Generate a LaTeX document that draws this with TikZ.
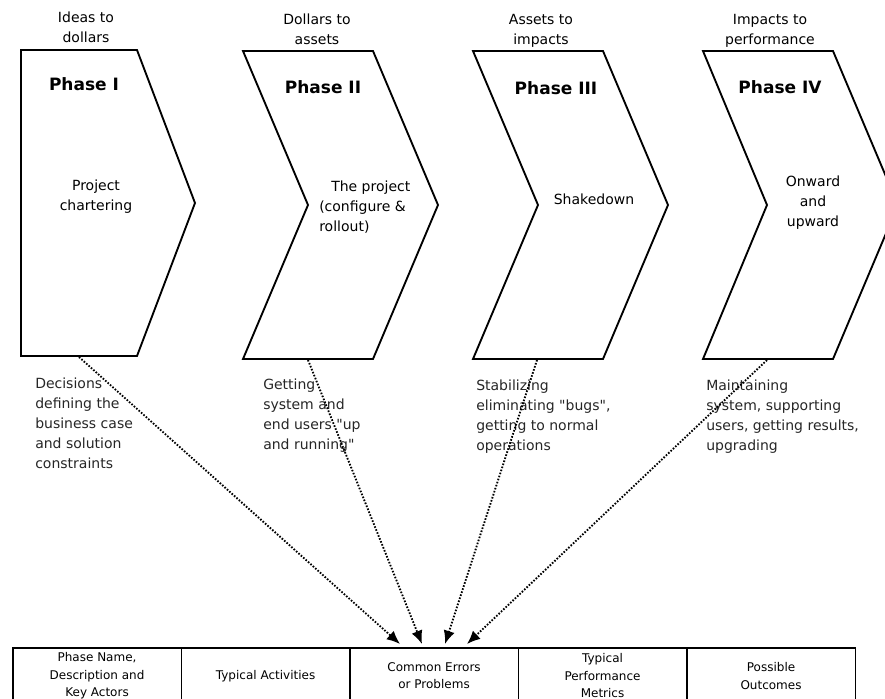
\documentclass[tikz,border=0pt]{standalone}
\usepackage{fontspec}
\setmainfont{DejaVu Sans}[Ligatures=TeXOff]
\usetikzlibrary{arrows.meta}
\begin{document}
\begin{tikzpicture}[x=0.75pt,y=-0.75pt,
  chev/.style={draw=black,line width=1.4pt,line join=miter},
  toplabel/.style={anchor=north,align=center,inner sep=0pt,font=\fontsize{10.5}{15}\selectfont},
  phaselabel/.style={inner sep=0pt,font=\fontsize{12.75}{15}\selectfont\bfseries},
  inlabel/.style={inner sep=0pt,font=\fontsize{10.5}{15}\selectfont},
  desc/.style={anchor=north west,align=left,inner sep=0pt,font=\fontsize{10.5}{15}\selectfont,text=black!85},
  cell/.style={draw=black,line width=1.2pt,minimum width=168.5*0.75pt,minimum height=56*0.75pt,anchor=north west,align=center,inner sep=0pt,font=\fontsize{9}{13.1}\selectfont},
  link/.style={line width=1.4pt,dash pattern=on 1.2pt off 1.2pt,-{Latex[length=10pt,width=8.5pt]}}]
\useasboundingbox (0,0) rectangle (885,699);
\clip (0,0) rectangle (885,699);
% chevrons
\draw[chev] (21,50) -- (137,50) -- (195,203) -- (137,356) -- (21,356) -- cycle;
\draw[chev] (243,51) -- (373,51) -- (438,205) -- (373,359) -- (243,359) -- (308,205) -- cycle;
\draw[chev] (473,51) -- (603,51) -- (668,205) -- (603,359) -- (473,359) -- (538,205) -- cycle;
\draw[chev] (703,51) -- (833,51) -- (898,205) -- (833,359) -- (703,359) -- (767,205) -- cycle;
% top labels
\node[toplabel] (t1) at (86,12) {Ideas to\\dollars};
\node[toplabel] (t2) at (317,14) {Dollars to\\assets};
\node[toplabel] (t3) at (541,14) {Assets to\\impacts};
\node[toplabel] (t4) at (770,14) {Impacts to\\performance};
% phase names
\node[phaselabel] (p1) at (84,84) {Phase I};
\node[phaselabel] (p2) at (323,87) {Phase II};
\node[phaselabel] (p3) at (556,88) {Phase III};
\node[phaselabel] (p4) at (780,87) {Phase IV};
% inner labels
\node[inlabel,anchor=north,align=center] (i1) at (96,180) {Project\\chartering};
\node[inlabel,anchor=north west,align=left] (i2) at (319,181) {\hspace*{9pt}The project\\(configure \&\\rollout)};
\node[inlabel,anchor=north] (i3) at (594,194) {Shakedown};
\node[inlabel,anchor=north,align=center] (i4) at (813,176) {Onward\\and\\upward};
% descriptions
\node[desc] (d1) at (35,378) {Decisions\\defining the\\business case\\and solution\\constraints};
\node[desc] (d2) at (263,379) {Getting\\system and\\end users "up\\and running"};
\node[desc] (d3) at (476,380) {Stabilizing\\eliminating "bugs",\\getting to normal\\operations};
\node[desc] (d4) at (706,380) {Maintaining\\system, supporting\\users, getting results,\\upgrading};
% table
\node[cell] (c1) at (12,647) {Phase Name,\\Description and\\Key Actors};
\node[cell] (c2) at (180.5,647) {Typical Activities};
\node[cell] (c3) at (349,647) {Common Errors\\or Problems};
\node[cell] (c4) at (517.5,647) {Typical\\Performance\\Metrics};
\node[cell] (c5) at (686,647) {Possible\\Outcomes};
% connector ends
\coordinate (s1) at (79,357);
\coordinate (s2) at (308,360);
\coordinate (s3) at (537,360);
\coordinate (s4) at (767,360);
\coordinate (e1) at (400,644);
\coordinate (e2) at (422,644);
\coordinate (e3) at (445,644);
\coordinate (e4) at (467,644);
\draw[link] (s1) -- (e1);
\draw[link] (s2) -- (e2);
\draw[link] (s3) -- (e3);
\draw[link] (s4) -- (e4);
\end{tikzpicture}
\end{document}
